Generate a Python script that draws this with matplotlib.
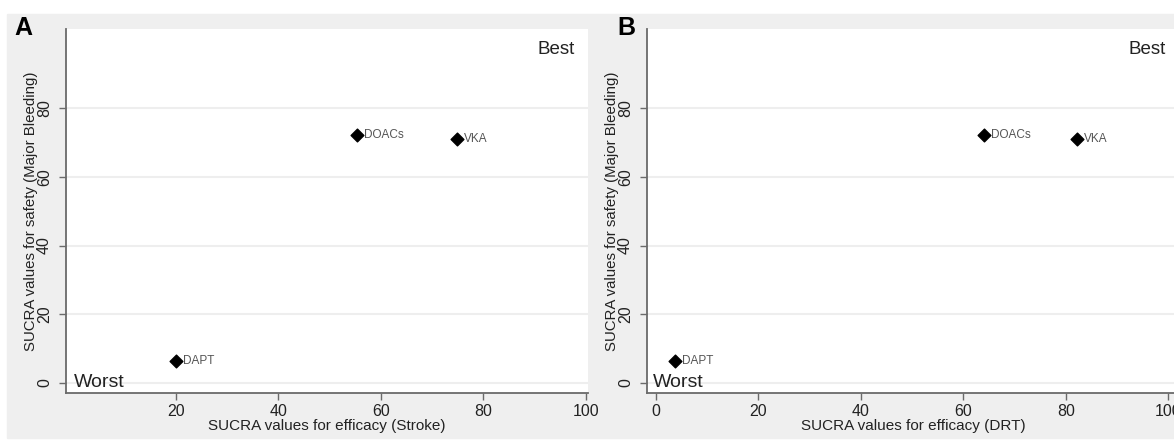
import matplotlib
matplotlib.use("Agg")
import matplotlib.pyplot as plt
from matplotlib.patches import Rectangle

plt.rcParams['font.family'] = ['Liberation Sans', 'DejaVu Sans']

# SUCRA values
treatments = ["DAPT", "DOACs", "VKA"]
efficacy_stroke = [20.0, 55.4, 74.9]
efficacy_drt = [3.7, 64.1, 82.2]
safety_bleeding = [6.5, 72.3, 70.9]

xlabels = ["SUCRA values for efficacy (Stroke)", "SUCRA values for efficacy (DRT)"]
ylabel = "SUCRA values for safety (Major Bleeding)"
panel_tags = ["A", "B"]

W, H = 1174, 445
fig = plt.figure(figsize=(W / 100, H / 100), dpi=100)
fig.patches.append(Rectangle((7 / W, 7 / H), (W - 7) / W, 424 / H,
                             transform=fig.transFigure, color="#efefef", zorder=-5))

# pixel boxes: left, right for each panel
boxes = [(66, 588), (647, 1180)]
xlims = [(-1.46, 100.4), (-1.76, 102.3)]
xticks = [[20, 40, 60, 80, 100], [0, 20, 40, 60, 80, 100]]
xdata = [efficacy_stroke, efficacy_drt]
worst_x = [0.0, -0.6]
best_x = [97.9, 99.6]
tag_x = [14, 617]

for i in range(2):
    l, r = boxes[i]
    ax = fig.add_axes([l / W, 52 / H, (r - l) / W, 364 / H])
    ax.set_facecolor("white")
    ax.set_xlim(*xlims[i])
    ax.set_ylim(-2.9, 103)
    ax.set_xticks(xticks[i])
    ax.set_yticks([0, 20, 40, 60, 80])
    for s in ["top", "right"]:
        ax.spines[s].set_visible(False)
    for s in ["left", "bottom"]:
        ax.spines[s].set_color("#6a6a6a")
        ax.spines[s].set_linewidth(1.3)
    ax.grid(axis="y", color="#eeeeee", linewidth=1.5)
    ax.set_axisbelow(True)
    ax.tick_params(axis="both", color="#6a6a6a", length=5, width=1,
                   labelsize=11.5, labelcolor="#222222")
    ax.tick_params(axis="x", pad=3)
    ax.tick_params(axis="y", pad=5, labelrotation=90)
    for t in ax.get_yticklabels():
        t.set_va("center")

    ax.scatter(xdata[i], safety_bleeding, marker="D", s=42, color="black",
               zorder=3, clip_on=False)
    for name, x, y in zip(treatments, xdata[i], safety_bleeding):
        ax.annotate(name, (x, y), xytext=(5, 0), textcoords="offset points",
                    va="center", ha="left", fontsize=8.5, color="#555555")

    ax.text(best_x[i], 97, "Best", ha="right", va="center", fontsize=13.5,
            color="#222222")
    ax.text(worst_x[i], 0.3, "Worst", ha="left", va="center", fontsize=14,
            color="#222222")

    ax.set_xlabel(xlabels[i], fontsize=11, color="#222222", va="center")
    ax.xaxis.set_label_coords(0.5, (393 - 426) / 364)
    ax.set_ylabel(ylabel, fontsize=10.8, color="#222222", va="center")
    ax.yaxis.set_label_coords(-35 / (r - l), 0.5)

    fig.text(tag_x[i] / W, (H - 28) / H, panel_tags[i], fontsize=18,
             fontweight="bold", ha="left", va="center")

fig.savefig("out.png", dpi=100, facecolor="white")
